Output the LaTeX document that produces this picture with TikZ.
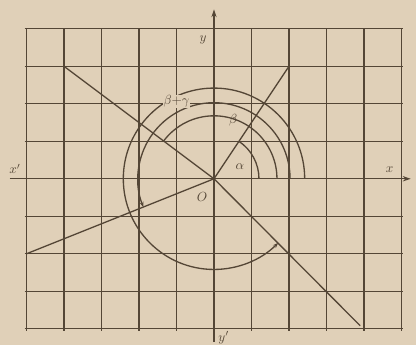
\documentclass[tikz,border=0pt]{standalone}
\usetikzlibrary{arrows.meta}
\definecolor{paper}{RGB}{224,208,184}
\definecolor{ink}{RGB}{84,70,54}
\begin{document}
\begin{tikzpicture}[
  gridline/.style={ink, line width=0.95pt},
  ray/.style={ink, line width=1.0pt},
  arcline/.style={ink, line width=1.0pt},
  lbl/.style={ink, inner sep=1pt}
]
\fill[paper] (-5.71,-4.43) rectangle (5.39,4.77);
\useasboundingbox (-5.71,-4.43) rectangle (5.39,4.77);
% grid
\foreach \i in {-5,...,5} \draw[gridline] (\i,-4.05) -- (\i,4.03);
\foreach \j in {-4,...,4} \draw[gridline] (-5.05,\j) -- (5.05,\j);
% axes
\coordinate (O) at (0,0);
\coordinate (xl) at (-5.45,0);
\coordinate (xr) at (5.25,0);
\coordinate (yb) at (0,-4.35);
\coordinate (yt) at (0,4.52);
\draw[ink, line width=1.1pt, -{Stealth[length=6pt,width=4pt]}] (xl) -- (xr);
\draw[ink, line width=1.1pt, -{Stealth[length=6pt,width=4pt]}] (yb) -- (yt);
% rays
\coordinate (A) at (2,3);
\coordinate (B) at (-4,3);
\coordinate (C) at (-5,-2);
\coordinate (D) at (3.9,-3.92);
\draw[ray] (O) -- (A);
\draw[ray] (O) -- (B);
\draw[ray] (O) -- (C);
\draw[ray] (O) -- (D);
% arcs
\draw[arcline] (1.2,0) arc[start angle=0, end angle=56.3, radius=1.2];
\draw[arcline] (1.68,0) arc[start angle=0, end angle=143.1, radius=1.68];
\draw[arcline, -{Stealth[length=4pt,width=3pt]}] (2.03,0) arc[start angle=0, end angle=201.8, radius=2.03];
\draw[arcline, -{Stealth[length=4pt,width=3pt]}] (2.42,0) arc[start angle=0, end angle=315, radius=2.42];
% labels
\node[lbl] (ly) at (-0.29,3.71) {$y$};
\node[lbl] (lyp) at (0.26,-4.24) {$y'$};
\node[lbl] (lxp) at (-5.31,0.26) {$x'$};
\node[lbl] (lx) at (4.69,0.24) {$x$};
\node[lbl] (lO) at (-0.32,-0.48) {$O$};
\node[lbl] (la) at (0.69,0.32) {$\alpha$};
\node[lbl] (lb) at (0.51,1.55) {$\beta$};
\node[lbl, fill=paper, inner sep=0.5pt] (lbg) at (-1.0,2.06) {$\beta{+}\gamma$};
\end{tikzpicture}
\end{document}
